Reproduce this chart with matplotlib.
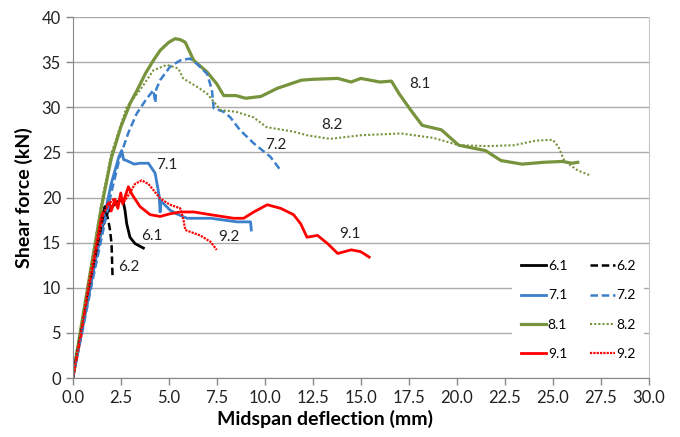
import matplotlib.pyplot as plt

plt.rcParams['font.family'] = ['Lato', 'DejaVu Sans']

# specimen curves: midspan deflection (mm) vs shear force (kN)
x61 = [0, 0.1, 0.5, 1.0, 1.5, 1.8, 2.0, 2.2, 2.46, 2.63, 2.72, 2.81, 2.98, 3.24, 3.5, 3.68]
y61 = [0, 1.5, 5.8, 11.2, 16.5, 18.3, 18.9, 19.3, 19.7, 19.5, 18.6, 17.1, 15.6, 14.9, 14.6, 14.4]
x62 = [0, 0.1, 0.5, 1.0, 1.5, 1.67, 1.85, 1.94, 2.02, 2.07]
y62 = [0, 1.4, 5.7, 11.3, 17.0, 19.0, 17.5, 16.4, 14.9, 11.4]

x71 = [0, 0.5, 1.0, 1.5, 2.0, 2.4, 2.55, 2.65, 2.8, 3.2, 3.5, 3.94, 4.29, 4.5, 4.55, 4.6,
       5.07, 5.4, 5.95, 7.2, 8.56, 9.26, 9.3]
y71 = [0, 5.5, 11.0, 16.5, 21.5, 24.5, 25.2, 24.2, 24.1, 23.7, 23.8, 23.8, 22.7, 20.2, 18.4, 19.6,
       18.6, 18.2, 17.7, 17.7, 17.3, 17.3, 16.4]
x72 = [0, 0.5, 1.0, 1.5, 2.0, 2.46, 2.9, 3.33, 3.8, 4.2, 4.3, 4.35, 4.55, 5.07, 5.6, 6.1, 6.47, 7.0,
       7.25, 7.34, 7.86, 8.2, 8.7, 9.43, 10.3, 10.83]
y72 = [0, 5.2, 10.5, 15.5, 20.5, 24.5, 27.2, 29.3, 30.8, 31.9, 30.5, 32.0, 33.0, 34.5, 35.2, 35.4, 34.8, 33.7,
       31.9, 29.9, 29.5, 28.9, 27.5, 26.0, 24.5, 23.0]

x81 = [0, 0.5, 1.0, 1.5, 2.0, 2.5, 3.0, 3.33, 3.8, 4.2, 4.55, 5.0, 5.33, 5.6, 5.86, 6.3, 7.0,
       7.5, 7.86, 8.5, 9.0, 9.8, 10.65, 11.9, 12.5, 13.8, 14.5, 15.0, 15.5, 16.0, 16.6, 17.0,
       17.6, 18.2, 19.2, 20.1, 21.5, 22.3, 23.4, 24.5, 25.5, 26.0, 26.3]
y81 = [0, 6.5, 12.8, 19.0, 24.3, 27.8, 30.5, 31.8, 33.8, 35.2, 36.3, 37.2, 37.6, 37.5, 37.2, 35.2, 33.9,
       32.6, 31.3, 31.3, 31.0, 31.2, 32.1, 33.0, 33.1, 33.2, 32.8, 33.2, 33.0, 32.8, 32.9, 31.5,
       29.7, 28.0, 27.5, 25.8, 25.2, 24.1, 23.7, 23.9, 24.0, 23.8, 23.9]
x82 = [0, 0.5, 1.0, 1.5, 2.0, 2.8, 3.5, 4.2, 4.9, 5.5, 5.75, 6.6, 7.0, 7.7, 8.5, 9.4, 10.1,
       11.5, 12.2, 13.4, 15.0, 17.1, 18.8, 20.1, 21.6, 23.0, 24.1, 25.0, 25.3, 25.6, 26.3, 26.9]
y82 = [0, 6.5, 13.0, 19.5, 24.8, 30.0, 31.9, 34.1, 34.7, 34.3, 33.2, 32.1, 31.5, 29.7, 29.5, 28.9, 27.8,
       27.3, 26.9, 26.5, 26.9, 27.1, 26.6, 25.8, 25.7, 25.8, 26.3, 26.4, 25.6, 24.1, 23.0, 22.5]

x91 = [0, 0.45, 0.8, 1.5, 1.7, 1.9, 2.0, 2.2, 2.35, 2.5, 2.6, 2.9, 3.07, 3.5, 4.03, 4.55, 5.07,
       5.6, 6.3, 7.17, 8.38, 8.9, 9.43, 10.13, 10.83, 11.5, 11.87, 12.2, 12.75, 13.27, 13.8,
       14.5, 15.0, 15.44]
y91 = [0, 4.9, 10.0, 18.0, 18.8, 19.5, 18.5, 19.8, 18.8, 20.5, 19.3, 21.2, 20.4, 19.0, 18.1, 17.9, 18.2,
       18.4, 18.4, 18.1, 17.7, 17.7, 18.4, 19.2, 18.8, 18.1, 17.1, 15.6, 15.8, 14.9, 13.8,
       14.2, 14.0, 13.4]
x92 = [0, 0.8, 1.6, 1.9, 2.1, 2.3, 2.5, 2.7, 3.0, 3.24, 3.59, 3.94, 4.29, 4.55, 5.07, 5.6,
       5.77, 5.86, 6.64, 7.17, 7.5]
y92 = [0, 9.5, 18.3, 19.3, 19.8, 19.0, 20.0, 19.6, 20.6, 21.5, 21.9, 21.5, 20.6, 19.9, 19.2, 18.8,
       17.5, 16.4, 15.8, 15.1, 14.2]

# curve labels placed on the chart
label_text = ['6.1', '6.2', '7.1', '7.2', '8.1', '8.2', '9.1', '9.2']
label_x = [4.1, 2.9, 4.9, 10.56, 18.06, 13.5, 14.45, 8.12]
label_y = [15.7, 12.3, 23.6, 25.8, 32.6, 28.0, 16.0, 15.65]

black = '#000000'
blue = '#3C7FCB'
green = '#77933C'
red = '#FF0000'

fig = plt.figure(figsize=(6.8, 4.37), dpi=100)
ax = fig.add_axes([0.107, 0.135, 0.847, 0.826])

l61, = ax.plot(x61, y61, color=black, lw=2, label='6.1')
l71, = ax.plot(x71, y71, color=blue, lw=2, label='7.1')
l81, = ax.plot(x81, y81, color=green, lw=2.3, label='8.1')
l91, = ax.plot(x91, y91, color=red, lw=2, label='9.1')
l62, = ax.plot(x62, y62, color=black, lw=1.8, ls=(0, (3, 1.5)), label='6.2')
l72, = ax.plot(x72, y72, color=blue, lw=1.8, ls=(0, (3, 1.5)), label='7.2')
l82, = ax.plot(x82, y82, color=green, lw=1.5, ls=(0, (1, 1)), label='8.2')
l92, = ax.plot(x92, y92, color=red, lw=1.6, ls=(0, (1, 0.5)), label='9.2')

for t, tx, ty in zip(label_text, label_x, label_y):
    ax.text(tx, ty, t, fontsize=11, ha='center', va='center', color='#222222')

ax.set_xlim(0, 30)
ax.set_ylim(0, 40)
ax.set_xticks([i * 2.5 for i in range(13)])
ax.set_xticklabels(['%.1f' % (i * 2.5) for i in range(13)])
ax.set_yticks(range(0, 41, 5))
ax.tick_params(labelsize=12, colors='#222222', length=5, width=1)
ax.tick_params(axis='both', color='#888888')
ax.yaxis.grid(True, color='#ABABAB', lw=1)
ax.set_axisbelow(True)
ax.spines['top'].set_visible(False)
ax.spines['right'].set_color('#C8C8C8')
ax.spines['left'].set_color('#888888')
ax.spines['bottom'].set_color('#888888')

ax.set_xlabel('Midspan deflection (mm)', fontsize=14, fontweight='bold')
ax.xaxis.set_label_coords(0.438, -0.088)
ax.set_ylabel('Shear force (kN)', fontsize=14, fontweight='bold', labelpad=6)

leg = ax.legend(handles=[l61, l71, l81, l91, l62, l72, l82, l92], ncol=2, loc='center',
                bbox_to_anchor=(0.878, 0.188), fontsize=10, frameon=True, fancybox=False,
                handlelength=1.8, handletextpad=0.15, columnspacing=1.6, labelspacing=1.25,
                borderpad=0.6)
leg.get_frame().set_edgecolor('none')
leg.get_frame().set_facecolor('white')
leg.get_frame().set_alpha(1)

plt.savefig('out.png', dpi=100)
